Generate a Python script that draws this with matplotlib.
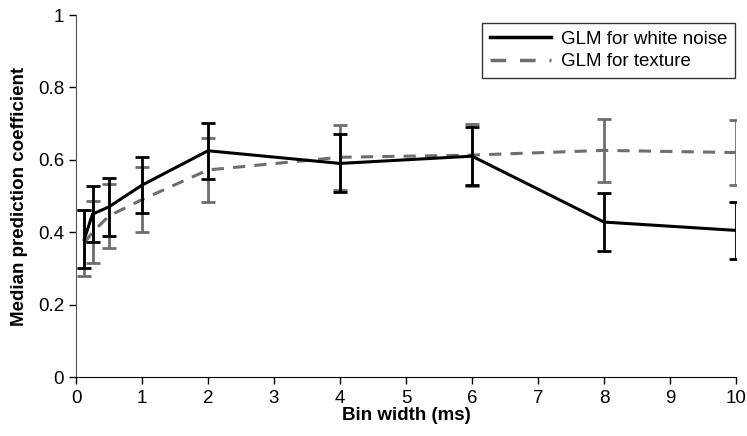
import matplotlib
matplotlib.use("Agg")
import matplotlib.pyplot as plt
from matplotlib.lines import Line2D

plt.rcParams['font.family'] = ['Liberation Sans', 'DejaVu Sans']

# --- data ---------------------------------------------------------------
bin_width = [0.125, 0.25, 0.5, 1, 2, 4, 6, 8, 10]

wn_median = [0.38, 0.45, 0.47, 0.53, 0.625, 0.59, 0.61, 0.428, 0.405]
wn_err    = [0.08, 0.078, 0.08, 0.078, 0.078, 0.08, 0.08, 0.08, 0.078]

tx_median = [0.37, 0.40, 0.445, 0.49, 0.572, 0.607, 0.613, 0.626, 0.62]
tx_err    = [0.09, 0.086, 0.088, 0.089, 0.088, 0.09, 0.085, 0.086, 0.089]

x_ticks = list(range(0, 11))
y_ticks = [0, 0.2, 0.4, 0.6, 0.8, 1]
y_labels = ['0', '0.2', '0.4', '0.6', '0.8', '1']

GRAY = '#6e6e6e'
DASH = (0, (4, 3))

fig = plt.figure(figsize=(7.47, 4.36), dpi=100)
ax = fig.add_axes([76 / 747, 59 / 436, 660 / 747, 362 / 436])

ax.errorbar(bin_width, wn_median, yerr=wn_err, color='black', lw=2.2,
            elinewidth=2, capsize=5, capthick=2, zorder=3)
ax.errorbar(bin_width, tx_median, yerr=tx_err, color=GRAY, lw=2.2,
            ls=DASH, elinewidth=2, capsize=5, capthick=2, zorder=2)

ax.set_xlim(0, 10)
ax.set_ylim(0, 1)
ax.set_xticks(x_ticks)
ax.set_yticks(y_ticks)
ax.set_yticklabels(y_labels)
ax.tick_params(labelsize=13.5, direction='out', length=5, width=1)
ax.tick_params(axis='x', pad=4)

for s in ('top', 'right'):
    ax.spines[s].set_visible(False)
ax.spines['left'].set_color('#555555')
ax.spines['bottom'].set_color('black')

ax.set_xlabel('Bin width (ms)', fontsize=13.5, fontweight='bold', labelpad=0)
ax.set_ylabel('Median prediction coefficient', fontsize=13.5,
              fontweight='bold', labelpad=7)

# legend shows plain lines only
handles = [Line2D([], [], color='black', lw=2.5),
           Line2D([], [], color=GRAY, lw=2.5, ls=(0, (4.5, 4)))]
leg = ax.legend(handles, ['GLM for white noise', 'GLM for texture'],
                loc='upper right', bbox_to_anchor=(0.998, 0.978),
                borderaxespad=0, fontsize=13.5, frameon=True, fancybox=False,
                edgecolor='black', handlelength=3.3, handletextpad=0.5,
                borderpad=0.4, labelspacing=0.3)
leg.get_frame().set_linewidth(1)

fig.savefig('out.png', dpi=100)
